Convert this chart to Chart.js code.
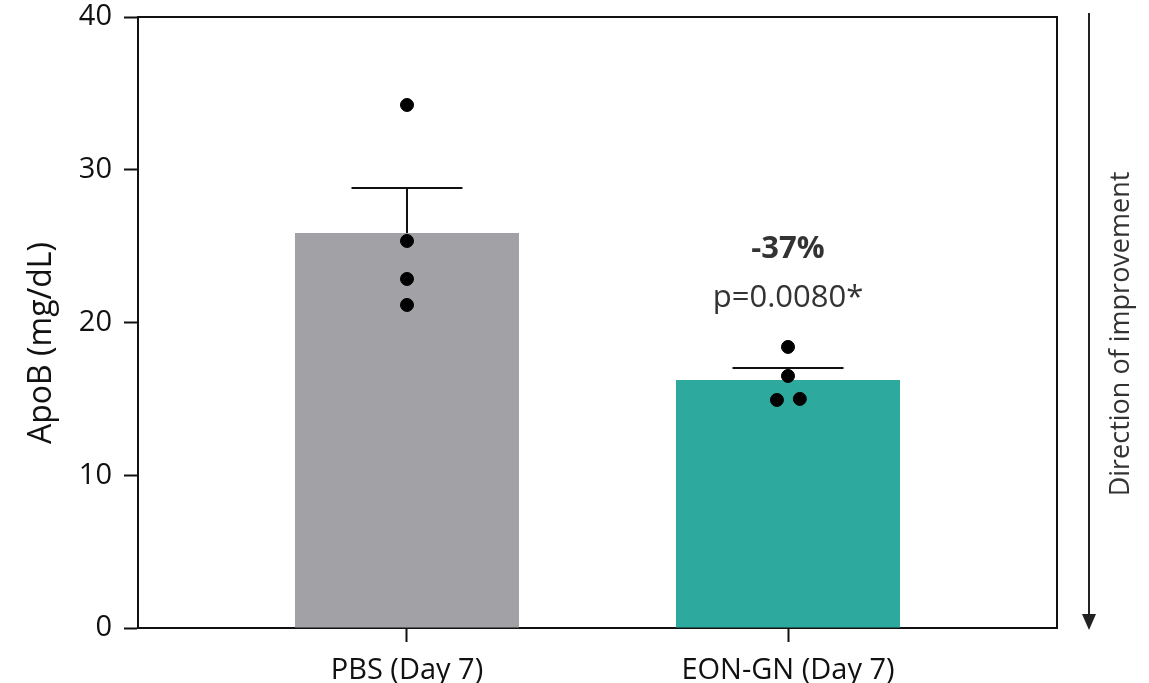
<!DOCTYPE html>
<html>
<head>
<meta charset="utf-8">
<script src="https://cdn.jsdelivr.net/npm/chart.js@4.4.1/dist/chart.umd.min.js"></script>
<style>
  html, body { margin: 0; padding: 0; background: #ffffff; }
  #wrap { width: 1149px; height: 683px; position: relative; }
</style>
</head>
<body>
<div id="wrap"><canvas id="c" width="1149" height="683"></canvas></div>
<script>
// ---- data ----
const categories = ["PBS (Day 7)", "EON-GN (Day 7)"];
const means = [25.86, 16.24];
const sems = [2.94, 0.78];
const pbsPoints = [34.24, 25.34, 22.85, 21.15];
const pbsJitter = [0, 0, 0, 0];
const eonPoints = [18.4, 16.5, 14.93, 15.0];
const eonJitter = [0, 0, -0.029, 0.031];
const yTicks = [0, 10, 20, 30, 40];
const changeLabel = "-37%";
const pLabel = "p=0.0080*";
const yTitle = "ApoB (mg/dL)";
const sideLabel = "Direction of improvement";

const FONT = "'Open Sans', 'Noto Sans', sans-serif";
const barColors = ["#a2a1a6", "#2ea99e"];

const barData = categories.map((c, i) => ({ x: i, y: means[i] }));
const pointData = [];
pbsPoints.forEach((v, k) => pointData.push({ x: 0 + pbsJitter[k], y: v }));
eonPoints.forEach((v, k) => pointData.push({ x: 1 + eonJitter[k], y: v }));

const framePlugin = {
  id: 'frame',
  beforeDatasetsDraw(chart) {
    const ctx = chart.ctx, xs = chart.scales.x, ys = chart.scales.y;
    ctx.save();
    ctx.strokeStyle = '#111';
    ctx.lineWidth = 2;
    means.forEach((m, i) => {
      const px = xs.getPixelForValue(i);
      const y0 = ys.getPixelForValue(m);
      const y1 = ys.getPixelForValue(m + sems[i]);
      ctx.beginPath();
      ctx.moveTo(px, y0); ctx.lineTo(px, y1);
      ctx.moveTo(px - 55.5, y1); ctx.lineTo(px + 55.5, y1);
      ctx.stroke();
    });
    ctx.restore();
  },
  afterDraw(chart) {
    const ctx = chart.ctx, a = chart.chartArea, xs = chart.scales.x;
    ctx.save();
    // frame top & right
    ctx.strokeStyle = '#111';
    ctx.lineWidth = 2;
    ctx.beginPath();
    ctx.moveTo(a.left, a.top); ctx.lineTo(a.right, a.top); ctx.lineTo(a.right, a.bottom);
    ctx.stroke();
    // annotation
    const cx = xs.getPixelForValue(1);
    ctx.fillStyle = '#333333';
    ctx.textAlign = 'center';
    ctx.textBaseline = 'alphabetic';
    ctx.font = "bold 31px " + FONT;
    ctx.fillText(changeLabel, cx, 258);
    ctx.font = "31px " + FONT;
    ctx.fillText(pLabel, cx, 307);
    // arrow
    const ax = 1089;
    ctx.strokeStyle = '#222';
    ctx.fillStyle = '#222';
    ctx.lineWidth = 2;
    ctx.beginPath();
    ctx.moveTo(ax, 13); ctx.lineTo(ax, 616);
    ctx.stroke();
    ctx.beginPath();
    ctx.moveTo(ax - 7, 614); ctx.lineTo(ax + 7, 614); ctx.lineTo(ax, 630);
    ctx.closePath(); ctx.fill();
    // side label
    ctx.save();
    ctx.translate(1121, 334);
    ctx.rotate(-Math.PI / 2);
    ctx.fillStyle = '#333333';
    ctx.font = "27px " + FONT;
    ctx.textAlign = 'center';
    ctx.textBaseline = 'middle';
    ctx.fillText(sideLabel, 0, 0);
    ctx.restore();
    // y axis title
    ctx.save();
    ctx.translate(42, 343);
    ctx.rotate(-Math.PI / 2);
    ctx.fillStyle = '#111';
    ctx.font = "32px " + FONT;
    ctx.textAlign = 'center';
    ctx.textBaseline = 'middle';
    ctx.fillText(yTitle, 0, 0);
    ctx.restore();
    ctx.restore();
  }
};

new Chart(document.getElementById('c'), {
  data: {
    datasets: [
      {
        type: 'scatter',
        data: pointData,
        backgroundColor: '#000',
        borderColor: '#000',
        pointRadius: 6.5,
        pointHoverRadius: 6.5,
        order: 0
      },
      {
        type: 'bar',
        data: barData,
        backgroundColor: barColors,
        borderWidth: 0,
        barPercentage: 1,
        categoryPercentage: 224 / 381,
        order: 1
      }
    ]
  },
  options: {
    responsive: false,
    animation: false,
    events: [],
    layout: { padding: { left: 0, right: 92, top: 17, bottom: 0 } },
    plugins: { legend: { display: false }, tooltip: { enabled: false } },
    scales: {
      x: {
        type: 'linear',
        min: -0.706,
        max: 1.706,
        offset: false,
        afterBuildTicks(s) { s.ticks = categories.map((c, i) => ({ value: i })); },
        afterFit(s) { s.height = 55; s.paddingLeft = 0; s.paddingRight = 0; },
        ticks: {
          callback: (v) => categories[v],
          color: '#111',
          font: { family: FONT, size: 29 },
          padding: 11,
          maxRotation: 0,
          autoSkip: false
        },
        grid: { offset: false, drawOnChartArea: false, tickLength: 14, tickWidth: 2, tickColor: '#111' },
        border: { color: '#111', width: 2 }
      },
      y: {
        min: 0,
        max: 40,
        afterBuildTicks(s) { s.ticks = yTicks.map(v => ({ value: v })); },
        afterFit(s) { s.width = 138; s.paddingTop = 0; s.paddingBottom = 0; },
        ticks: {
          color: '#111',
          font: { family: FONT, size: 29 },
          padding: 12
        },
        title: { display: false, text: yTitle },
        grid: { drawOnChartArea: false, tickLength: 14, tickWidth: 2, tickColor: '#111' },
        border: { color: '#111', width: 2 }
      }
    }
  },
  plugins: [framePlugin]
});
</script>
</body>
</html>
